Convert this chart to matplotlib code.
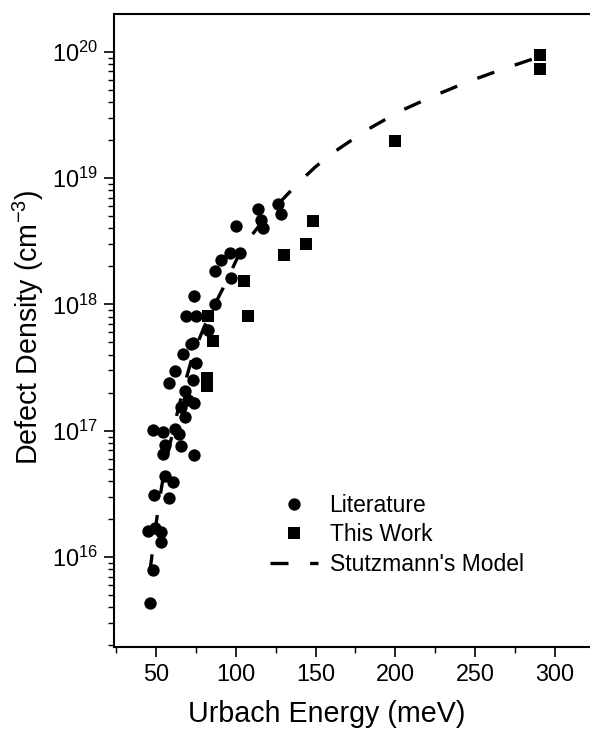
import numpy as np
import matplotlib
matplotlib.use("Agg")
import matplotlib.pyplot as plt
from matplotlib.ticker import LogLocator, MultipleLocator, NullFormatter

plt.rcParams["font.family"] = ["Liberation Sans", "DejaVu Sans"]
plt.rcParams["mathtext.fontset"] = "custom"
plt.rcParams["mathtext.rm"] = "Liberation Sans"
plt.rcParams["mathtext.it"] = "Liberation Sans:italic"

# literature points (Urbach energy in meV, defect density in cm^-3)
lit_x = [100.2, 113.7, 126.3, 128.4, 115.9, 117.3, 102.3, 96, 90.8, 87.2,
         97, 74, 86.6, 68.8, 75.1, 82.4, 73, 72, 66.7, 75.1,
         61.5, 58.3, 73, 67.8, 69.8, 74, 65.7, 67.8, 47.9, 54.1,
         61.5, 64.6, 55.2, 65.7, 54.1, 74, 55.2, 60.4, 48.3, 58.3,
         44.7, 49, 53.1, 53.1, 47.9, 46.2]
lit_y = [4.2e18, 5.66e18, 6.24e18, 5.2e18, 4.66e18, 4.0e18, 2.57e18, 2.54e18, 2.25e18, 1.85e18,
         1.61e18, 1.16e18, 1.0e18, 8.1e17, 8.1e17, 6.27e17, 4.98e17, 4.85e17, 4.05e17, 3.45e17,
         2.99e17, 2.37e17, 2.5e17, 2.07e17, 1.75e17, 1.65e17, 1.55e17, 1.29e17, 1.01e17, 9.8e16,
         1.04e17, 9.5e16, 7.7e16, 7.6e16, 6.6e16, 6.4e16, 4.38e16, 3.95e16, 3.1e16, 2.92e16,
         1.61e16, 1.69e16, 1.59e16, 1.32e16, 7.9e15, 4.35e15]

# this work
tw_x = [82.4, 85.5, 82.0, 82.0, 105.4, 107.5, 130.5, 144.3, 148.2, 200, 291, 291]
tw_y = [8.1e17, 5.1e17, 2.6e17, 2.25e17, 1.53e18, 8.1e17, 2.45e18, 3.0e18, 4.6e18, 1.97e19,
        9.5e19, 7.3e19]

# Stutzmann's model curve
model_x = [46, 49, 52, 56, 62, 67, 73, 80, 86, 92, 98, 104, 115, 127, 139, 150,
           162, 182, 203, 225, 246, 268, 288]
model_logy = [15.88, 16.18, 16.45, 16.75, 17.08, 17.33, 17.6, 17.82, 17.98, 18.13, 18.29,
              18.45, 18.63, 18.8, 18.96, 19.09, 19.21, 19.38, 19.53, 19.655, 19.765,
              19.865, 19.95]
model_y = [10 ** v for v in model_logy]

fig = plt.figure(figsize=(5.9, 7.31), dpi=100)
ax = fig.add_axes([0.1924, 0.1149, 0.8070, 0.8659])

ax.plot(model_x, model_y, color="black", lw=2.4, dashes=(5.4, 6.5),
        label="Stutzmann's Model", zorder=2)
ax.plot(lit_x, lit_y, "o", color="black", ms=8.9, mew=0,
        label="Literature", zorder=3)
ax.plot(tw_x, tw_y, "s", color="black", ms=8.2, mew=0,
        label="This Work", zorder=3)

ax.set_yscale("log")
ax.set_xlim(23.2, 322)
ax.set_ylim(1.94e15, 1.99e20)

ax.xaxis.set_major_locator(MultipleLocator(50))
ax.xaxis.set_minor_locator(MultipleLocator(25))
ax.yaxis.set_major_locator(LogLocator(base=10, numticks=10))
ax.yaxis.set_minor_locator(LogLocator(base=10, subs=np.arange(2, 10), numticks=20))
ax.yaxis.set_minor_formatter(NullFormatter())
ax.set_xticks([50, 100, 150, 200, 250, 300])
ax.set_xticklabels(["50", "100", "150", "200", "250", "300"])

ax.spines["right"].set_visible(False)
for s in ["left", "bottom", "top"]:
    ax.spines[s].set_linewidth(1.5)

ax.tick_params(which="major", direction="out", length=7.5, width=1.2,
               labelsize=16.8, pad=4)
ax.tick_params(which="minor", direction="out", length=4, width=1.0)
ax.tick_params(top=False, right=False)

ax.set_xlabel("Urbach Energy (meV)", fontsize=20.6)
ax.set_ylabel("Defect Density (cm$^{-3}$)", fontsize=20.6)
ax.xaxis.set_label_coords(0.448, -0.083)
ax.yaxis.set_label_coords(-0.142, 0.505)

h, l = ax.get_legend_handles_labels()
order = [1, 2, 0]
ax.legend([h[i] for i in order], [l[i] for i in order], frameon=False,
          fontsize=16.5, loc="center left", bbox_to_anchor=(0.3285, 0.177),
          borderpad=0, borderaxespad=0, handlelength=2.1, handletextpad=0.5,
          labelspacing=0.28)

fig.savefig("out.png", dpi=100)
